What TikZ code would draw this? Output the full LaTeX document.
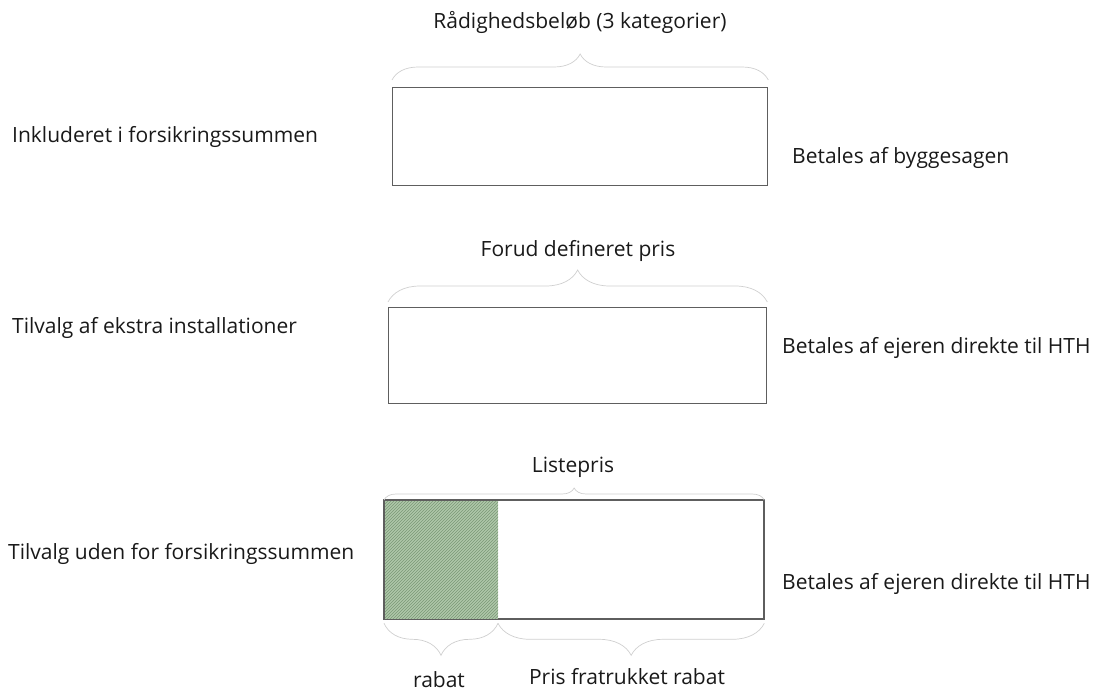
\documentclass[tikz,border=0pt]{standalone}
\usepackage{fontspec}
\setmainfont{Open Sans}
\usetikzlibrary{decorations.pathreplacing,patterns}
\definecolor{boxline}{HTML}{5E5E5E}
\definecolor{hatchfill}{HTML}{AFC7AA}
\definecolor{hatchline}{HTML}{7A9876}
\definecolor{bracecol}{HTML}{CFCFCF}
\tikzset{
  bar/.style={draw=boxline, line width=1.3pt, fill=white, inner sep=0pt, anchor=north west},
  lbl/.style={font=\fontsize{21}{24}\selectfont, text=black!90, inner sep=0pt},
  brc/.style={draw=bracecol, line width=0.7pt, decorate, decoration={brace, amplitude=#1}},
  brcdown/.style={draw=bracecol, line width=0.7pt, decorate, decoration={brace, mirror, amplitude=#1}},
}
\begin{document}
\begin{tikzpicture}[x=1pt,y=-1pt]
\useasboundingbox (0,0) rectangle (1101,694);
% boxes
\node[bar, minimum width=375pt, minimum height=98pt] (b1) at (392,87) {};
\node[bar, minimum width=378pt, minimum height=96pt] (b2) at (388,307) {};
\node[bar, minimum width=379pt, minimum height=118pt] (b3) at (384,500) {};
\coordinate (split) at ([xshift=114pt]b3.south west);
\fill[hatchfill] (b3.north west) rectangle (split);
\path[pattern=north east lines, pattern color=hatchline] (b3.north west) rectangle (split);
\draw[boxline, line width=1.3pt] (b3.north west) rectangle (b3.south east);
% braces
\draw[brc=26pt] ([yshift=7pt]b1.north west) -- ([yshift=7pt]b1.north east);
\draw[brc=32pt] ([yshift=5pt]b2.north west) -- ([yshift=5pt]b2.north east);
\draw[brc=12pt] (b3.north west) -- (b3.north east);
\draw[brcdown=32pt] ([yshift=-4pt]b3.south west) -- ([yshift=-4pt]split);
\draw[brcdown=32pt] ([yshift=-4pt]split) -- ([yshift=-4pt]b3.south east);
% top labels
\node[lbl] (t1) at (580,22) {Rådighedsbeløb (3 kategorier)};
\node[lbl] (t2) at (578,251) {Forud defineret pris};
\node[lbl] (t3) at (573,467) {Listepris};
\node[lbl] (t4) at (439,680) {rabat};
\node[lbl] (t5) at (627,677) {Pris fratrukket rabat};
% left labels
\node[lbl, anchor=west] (l1) at (12,137) {Inkluderet i forsikringssummen};
\node[lbl, anchor=west] (l2) at (12,328) {Tilvalg af ekstra installationer};
\node[lbl, anchor=west] (l3) at (8,554) {Tilvalg uden for forsikringssummen};
% right labels
\node[lbl, anchor=west] (r1) at (792,158) {Betales af byggesagen};
\node[lbl, anchor=west] (r2) at (782,348) {Betales af ejeren direkte til HTH};
\node[lbl, anchor=west] (r3) at (782,584) {Betales af ejeren direkte til HTH};
\end{tikzpicture}
\end{document}
